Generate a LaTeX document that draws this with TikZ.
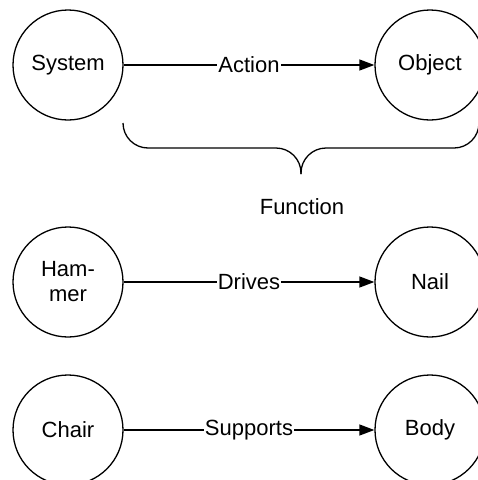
\documentclass[tikz,border=0pt]{standalone}
\usepackage{fontspec}
\setmainfont{Liberation Sans}
\usetikzlibrary{positioning, arrows.meta}

\begin{document}
\begin{tikzpicture}[x=1pt, y=-1pt,
    element/.style={circle, draw=black, line width=1.3pt, minimum size=110pt,
                    inner sep=0pt, align=center, font=\fontsize{22}{25}\selectfont},
    arrow/.style={-{Triangle[length=15pt, width=11pt]}, line width=1.3pt},
    edgetext/.style={fill=white, inner xsep=1pt, inner ysep=2pt, font=\fontsize{22}{25}\selectfont},
    bracket/.style={line width=1.3pt, rounded corners=25pt}
]
    \useasboundingbox (0,0) rectangle (478,480);

    % Generic function
    \node[element] (system) at (68, 65) {System};
    \node[element] (object) at (430, 65) {Object};
    \draw[arrow] (system) -- (object) node[midway, edgetext] {Action};

    % Bracket
    \coordinate (tip) at (301, 174);
    \draw[bracket] (123, 123) |- (301, 148) -- (tip);
    \draw[bracket] (479, 123) |- (301, 148) -- (tip);
    \node[edgetext] (function) at (302, 207) {Function};

    % Hammer example
    \node[element] (hammer) at (68, 282) {Ham-\\mer};
    \node[element] (nail) at (430, 282) {Nail};
    \draw[arrow] (hammer) -- (nail) node[midway, edgetext] {Drives};

    % Chair example
    \node[element] (chair) at (68, 430) {Chair};
    \node[element] (body) at (430, 430) {Body};
    \draw[arrow] (chair) -- (body) node[midway, edgetext] {Supports};

\end{tikzpicture}
\end{document}
